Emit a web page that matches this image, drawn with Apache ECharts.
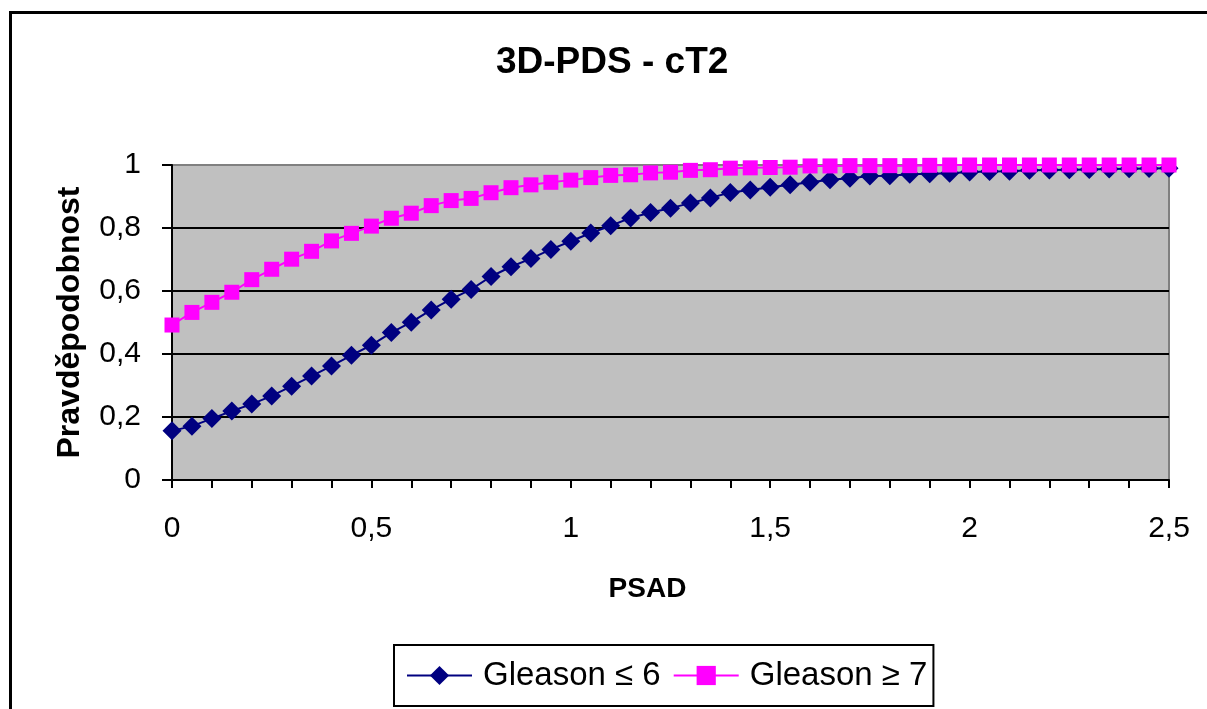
<!DOCTYPE html>
<html lang="cs">
<head>
    <meta charset="utf-8">
    <script src="https://cdn.jsdelivr.net/npm/echarts@6/dist/echarts.min.js"></script>
    <style>
        html, body {
            margin: 0;
            padding: 0;
            background: #fff;
        }
        #main {
            width: 1207px;
            height: 709px;
        }
    </style>
</head>
<body>
<div id="main"></div>

<script>
    // PSAD values on the x axis
    var psad = [
        0, 0.05, 0.1, 0.15, 0.2, 0.25, 0.3, 0.35, 0.4, 0.45,
        0.5, 0.55, 0.6, 0.65, 0.7, 0.75, 0.8, 0.85, 0.9, 0.95,
        1, 1.05, 1.1, 1.15, 1.2, 1.25, 1.3, 1.35, 1.4, 1.45,
        1.5, 1.55, 1.6, 1.65, 1.7, 1.75, 1.8, 1.85, 1.9, 1.95,
        2, 2.05, 2.1, 2.15, 2.2, 2.25, 2.3, 2.35, 2.4, 2.45,
        2.5
    ];

    // Gleason <= 6
    var gleasonLow = [
        0.156, 0.171, 0.195, 0.219, 0.241, 0.267, 0.298, 0.330, 0.362, 0.396,
        0.428, 0.468, 0.501, 0.540, 0.574, 0.605, 0.646, 0.677, 0.703, 0.732,
        0.758, 0.784, 0.807, 0.832, 0.849, 0.863, 0.879, 0.895, 0.913, 0.921,
        0.929, 0.937, 0.945, 0.953, 0.958, 0.965, 0.966, 0.971, 0.972, 0.974,
        0.978, 0.979, 0.980, 0.983, 0.984, 0.985, 0.986, 0.987, 0.988, 0.989,
        0.990
    ];

    // Gleason >= 7
    var gleasonHigh = [
        0.492, 0.532, 0.564, 0.596, 0.636, 0.669, 0.701, 0.726, 0.759, 0.783,
        0.806, 0.831, 0.847, 0.871, 0.887, 0.894, 0.912, 0.928, 0.937, 0.945,
        0.952, 0.960, 0.967, 0.969, 0.975, 0.977, 0.983, 0.985, 0.990, 0.991,
        0.992, 0.993, 0.997, 0.997, 0.998, 0.998, 0.998, 0.998, 0.999, 1.0,
        1.0, 1.0, 1.0, 1.0, 1.0, 1.0, 1.0, 1.0, 1.0, 1.0,
        1.0
    ];

    var seriesNames = ['Gleason \u2264 6', 'Gleason \u2265 7'];

    function pairs(ys) {
        return ys.map(function (y, i) {
            return [psad[i], y];
        });
    }

    function comma(v) {
        return String(v).replace('.', ',');
    }

    var font = '"Liberation Sans", Arial, sans-serif';

    var chart = echarts.init(document.getElementById('main'), null, { renderer: 'canvas' });

    chart.setOption({
        backgroundColor: '#fff',
        animation: false,
        textStyle: { fontFamily: font, color: '#000' },
        title: {
            text: '3D-PDS - cT2',
            left: 496,
            top: 44,
            padding: 0,
            textStyle: { fontFamily: font, fontSize: 37, fontWeight: 'bold', color: '#000' }
        },
        graphic: [{
            // outer chart frame (cut off on the right and bottom)
            type: 'rect',
            left: 8,
            top: 10,
            shape: { width: 1300, height: 800 },
            style: { fill: 'none', stroke: '#000', lineWidth: 3 },
            z: -1
        }],
        grid: {
            left: 172,
            right: 38,
            top: 165,
            bottom: 229,
            show: true,
            backgroundColor: '#c0c0c0',
            borderColor: '#808080',
            borderWidth: 2
        },
        legend: {
            data: seriesNames,
            left: 394,
            top: 645,
            orient: 'horizontal',
            padding: [14, 6, 14, 12],
            itemGap: 12,
            itemWidth: 65,
            itemHeight: 24,
            borderColor: '#000',
            borderWidth: 2,
            textStyle: { fontFamily: font, fontSize: 33, color: '#000', padding: [0, 0, 0, 6] }
        },
        xAxis: {
            type: 'value',
            min: 0,
            max: 2.5,
            interval: 0.1,
            name: 'PSAD',
            nameLocation: 'middle',
            nameGap: 95,
            nameTextStyle: {
                fontFamily: font, fontSize: 28, fontWeight: 'bold', color: '#000',
                padding: [0, 46, 0, 0]
            },
            axisLine: { show: true, onZero: false, lineStyle: { color: '#000', width: 2 } },
            axisTick: { show: true, inside: false, length: 8, lineStyle: { color: '#000', width: 2 } },
            splitLine: { show: false },
            axisLabel: {
                margin: 34,
                fontFamily: font,
                fontSize: 30,
                color: '#000',
                formatter: function (v) {
                    var twice = v * 2;
                    if (Math.abs(twice - Math.round(twice)) < 1e-6) {
                        return comma(Math.round(twice) / 2);
                    }
                    return '';
                }
            }
        },
        yAxis: {
            type: 'value',
            min: 0,
            max: 1,
            interval: 0.2,
            name: 'Pravděpodobnost',
            nameLocation: 'middle',
            nameGap: 86,
            nameTextStyle: { fontFamily: font, fontSize: 32, fontWeight: 'bold', color: '#000' },
            axisLine: { show: true, lineStyle: { color: '#000', width: 2 } },
            axisTick: { show: true, inside: false, length: 10, lineStyle: { color: '#000', width: 2 } },
            splitLine: { show: true, showMaxLine: false, lineStyle: { color: '#000', width: 2 } },
            axisLabel: {
                margin: 31,
                fontFamily: font,
                fontSize: 30,
                color: '#000',
                formatter: function (v) {
                    return comma(Math.round(v * 10) / 10);
                }
            }
        },
        series: [{
            name: seriesNames[0],
            type: 'line',
            data: pairs(gleasonLow),
            symbol: 'diamond',
            symbolSize: 19,
            clip: false,
            color: '#000080',
            lineStyle: { color: '#000080', width: 2 },
            itemStyle: { color: '#000080' }
        }, {
            name: seriesNames[1],
            type: 'line',
            data: pairs(gleasonHigh),
            symbol: 'rect',
            symbolSize: 15,
            clip: false,
            color: '#ff00ff',
            lineStyle: { color: '#ff00ff', width: 2 },
            itemStyle: { color: '#ff00ff' }
        }]
    });
</script>
</body>
</html>
